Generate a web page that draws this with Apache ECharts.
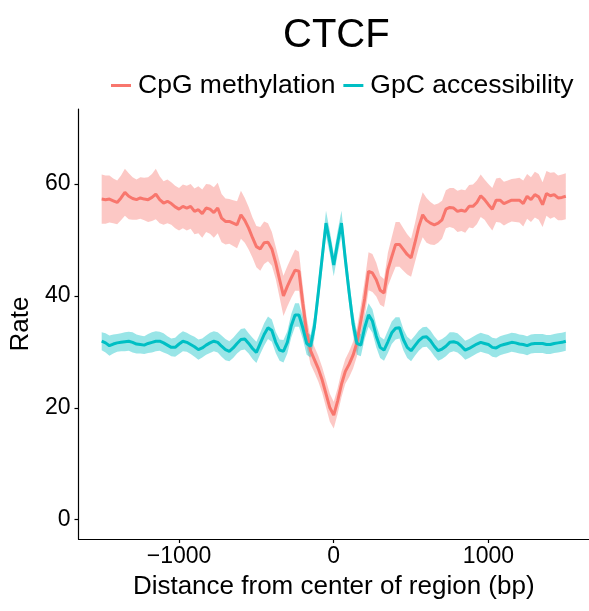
<!DOCTYPE html>
<html><head><meta charset="utf-8">
<script src="https://cdn.jsdelivr.net/npm/echarts@6/dist/echarts.min.js"></script>
<style>html,body{margin:0;padding:0;background:#fff}#chart{width:589px;height:611px}</style>
</head><body><div id="chart"></div>
<script>
const distance = [
-1500,-1475,-1450,-1425,-1400,-1375,-1350,-1325,-1300,-1275,
-1250,-1225,-1200,-1175,-1150,-1125,-1100,-1075,-1050,-1025,
-1000,-975,-950,-925,-900,-875,-850,-825,-800,-775,
-750,-725,-700,-675,-650,-625,-600,-575,-550,-525,
-500,-475,-450,-425,-400,-375,-350,-325,-300,-275,
-250,-225,-200,-175,-150,-125,-100,-75,-50,-25,
0,
25,50,75,100,125,150,175,200,225,250,
275,300,325,350,375,400,425,450,475,500,
525,550,575,600,625,650,675,700,725,750,
775,800,825,850,875,900,925,950,975,1000,
1025,1050,1075,1100,1125,1150,1175,1200,1225,1250,
1275,1300,1325,1350,1375,1400,1425,1450,1475,1500];

const cpgMean = [
57.3,57.2,57.3,57.0,56.7,57.5,58.5,57.8,57.4,57.2,
57.5,57.3,57.2,57.6,58.2,57.2,56.6,56.9,56.5,55.9,
55.5,56.0,55.7,56.0,55.1,55.4,54.7,55.7,55.5,54.9,
55.7,53.9,53.3,53.3,53.0,52.7,54.5,53.5,52.1,50.4,
48.8,48.4,49.5,49.6,48.4,45.9,42.9,40.0,41.7,43.2,
44.6,44.4,38.7,33.5,30.2,28.6,27.0,25.0,22.5,20.0,
18.7,
21.2,24.2,26.5,27.8,29.4,31.7,35.5,39.5,44.4,44.1,
42.9,41.0,40.5,44.7,47.0,49.2,49.2,48.3,47.4,46.8,
49.5,52.4,54.5,53.5,53.0,52.7,53.0,53.6,55.5,55.8,
55.7,55.1,55.3,55.1,56.0,56.0,56.7,57.9,57.2,56.3,
55.5,57.1,57.1,56.5,56.8,57.1,57.1,57.1,56.5,57.8,
57.2,58.1,57.7,56.3,58.3,57.9,58.1,57.5,57.6,57.8];

const cpgHalf = [
4.4,4.3,4.2,4.0,3.9,4.0,4.2,4.1,3.8,3.6,
3.7,3.8,4.0,4.2,4.5,4.2,3.9,3.9,3.8,3.8,
3.8,3.9,4.0,4.0,4.1,4.2,4.3,4.3,4.4,4.5,
4.5,4.3,4.1,4.0,4.1,4.2,4.3,4.0,3.8,3.6,
3.7,3.9,3.8,3.4,3.0,2.9,3.2,3.6,3.6,3.6,
3.7,3.5,3.0,2.6,2.4,2.3,2.3,2.3,2.4,2.5,
2.4,
2.3,2.3,2.2,2.3,2.4,2.5,2.8,3.2,3.4,3.4,
3.0,2.6,2.5,3.0,3.5,4.0,4.0,3.8,3.6,3.4,
3.5,3.8,4.0,4.0,3.8,3.6,3.5,3.4,3.4,3.5,
3.6,3.7,3.7,3.8,3.8,3.9,3.9,3.8,3.6,3.7,
3.8,3.9,4.0,3.9,3.8,3.8,3.9,4.0,4.1,4.0,
4.0,4.1,4.1,4.0,4.0,4.1,4.0,4.0,4.1,4.1];

const gpcMean = [
31.9,31.6,31.1,31.4,31.6,31.7,31.8,31.9,31.7,31.4,
31.3,31.2,31.5,31.7,31.9,31.9,31.6,31.2,30.8,30.8,
31.4,31.9,31.7,31.3,30.9,30.4,30.7,31.2,31.6,31.9,
31.7,31.0,30.4,30.1,30.7,31.5,32.2,32.3,31.5,30.6,
29.9,31.5,33.1,34.3,33.8,31.7,30.3,30.1,31.7,34.6,
36.6,36.6,34.3,31.5,31.0,34.5,40.5,46.8,53.0,49.5,
45.5,
49.5,53.0,46.5,40.5,35.0,31.5,31.2,34.3,36.6,35.5,
32.8,30.8,30.3,31.8,33.4,34.2,34.3,32.2,30.8,30.2,
31.1,32.0,32.6,32.7,32.0,31.0,30.2,30.5,31.0,31.7,
31.8,31.6,31.0,30.3,30.6,31.0,31.4,31.7,31.5,31.3,
30.8,30.7,31.1,31.3,31.5,31.7,31.6,31.4,31.3,31.1,
31.4,31.5,31.5,31.5,31.3,31.3,31.5,31.6,31.7,31.9];

const gpcHalf = [
1.6,1.7,1.8,1.7,1.6,1.6,1.7,1.7,1.8,1.7,
1.6,1.6,1.7,1.8,1.8,1.7,1.7,1.6,1.6,1.7,
1.8,1.8,1.7,1.7,1.8,1.8,1.7,1.7,1.8,1.8,
1.8,1.9,1.9,1.8,1.8,1.8,1.9,1.9,1.8,1.9,
1.9,1.9,2.0,2.0,2.0,1.9,1.9,2.0,2.0,2.1,
2.1,2.1,2.0,2.0,2.0,2.1,2.2,2.2,2.2,2.1,
2.0,
2.1,2.2,2.2,2.2,2.1,2.0,2.0,2.0,2.1,2.1,
2.0,1.9,1.9,2.0,2.0,2.0,1.9,1.9,1.9,1.9,
1.8,1.8,1.8,1.8,1.8,1.8,1.8,1.8,1.8,1.8,
1.7,1.7,1.7,1.7,1.7,1.7,1.7,1.7,1.7,1.7,
1.7,1.7,1.7,1.7,1.7,1.7,1.7,1.7,1.7,1.7,
1.7,1.7,1.7,1.7,1.7,1.7,1.7,1.7,1.7,1.7];

const xTicks = [-1000, 0, 1000];
const yTicks = [0, 20, 40, 60];
const seriesNames = ['CpG methylation', 'GpC accessibility'];
const chartTitle = 'CTCF';
const xTitle = 'Distance from center of region (bp)';
const yTitle = 'Rate';

const RED = '#F8766D', TEAL = '#00BFC4';
const FONT = '"Liberation Sans", Arial, Helvetica, sans-serif';

function ribbonData(mean, half) {
  return distance.map((d, i) => [d, mean[i] - half[i], mean[i] + half[i]]);
}
function ribbonSeries(data, fill) {
  return {
    type: 'custom', name: 'band', silent: true, z: 1, clip: true,
    encode: { x: 0, y: [1, 2] },
    data: data,
    renderItem: function (params, api) {
      if (params.dataIndex !== 0) return;
      const up = data.map(p => api.coord([p[0], p[2]]));
      const lo = data.map(p => api.coord([p[0], p[1]])).reverse();
      return { type: 'polygon', shape: { points: up.concat(lo) }, style: { fill: fill } };
    }
  };
}
function lineSeries(name, mean, color) {
  return {
    type: 'line', name: name, z: 3, showSymbol: false, symbol: 'none',
    data: distance.map((d, i) => [d, mean[i]]),
    lineStyle: { color: color, width: 3 }, itemStyle: { color: color }
  };
}

const chart = echarts.init(document.getElementById('chart'), null, { renderer: 'canvas' });
chart.setOption({
  animation: false,
  backgroundColor: '#fff',
  title: {
    text: chartTitle, left: 278, top: 11,
    textStyle: { fontFamily: FONT, fontSize: 40, fontWeight: 'normal', color: '#000' }
  },
  legend: {
    data: [{ name: seriesNames[0], itemStyle: { color: RED } }, { name: seriesNames[1], itemStyle: { color: TEAL } }],
    left: 106, top: 67, icon: 'rect', itemWidth: 20, itemHeight: 3, itemGap: 8,
    textStyle: { fontFamily: FONT, fontSize: 26.5, color: '#000', padding: [0, 0, 0, 2] }
  },
  grid: { left: 78, right: 0, top: 109, bottom: 72, containLabel: false },
  xAxis: {
    type: 'value', min: -1650, max: 1650,
    name: xTitle, nameLocation: 'middle', nameGap: 35,
    nameTextStyle: { fontFamily: FONT, fontSize: 26, color: '#000' },
    axisLine: { show: true, onZero: false, lineStyle: { color: '#000', width: 1.2 } },
    axisTick: { show: true, length: 4, customValues: xTicks, lineStyle: { color: '#000', width: 1.2 } },
    axisLabel: { customValues: xTicks, fontFamily: FONT, fontSize: 23, color: '#000', margin: 6,
      formatter: v => (v < 0 ? '\u2212' + Math.abs(v) : String(v)) },
    splitLine: { show: false }
  },
  yAxis: {
    type: 'value', min: -3.45, max: 73.4,
    name: yTitle, nameLocation: 'middle', nameGap: 43, nameRotate: 90,
    nameTextStyle: { fontFamily: FONT, fontSize: 26, color: '#000' },
    axisLine: { show: true, onZero: false, lineStyle: { color: '#000', width: 1.2 } },
    axisTick: { show: true, length: 4, customValues: yTicks, lineStyle: { color: '#000', width: 1.2 } },
    axisLabel: { customValues: yTicks, fontFamily: FONT, fontSize: 23, color: '#000', margin: 8 },
    splitLine: { show: false }
  },
  series: [
    ribbonSeries(ribbonData(cpgMean, cpgHalf), 'rgba(248,118,109,0.4)'),
    ribbonSeries(ribbonData(gpcMean, gpcHalf), 'rgba(0,191,196,0.4)'),
    lineSeries(seriesNames[0], cpgMean, RED),
    lineSeries(seriesNames[1], gpcMean, TEAL)
  ]
});
</script>
</body></html>
